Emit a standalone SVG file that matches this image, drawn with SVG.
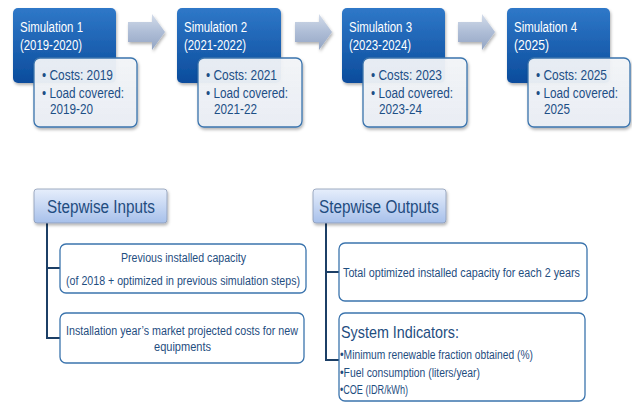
<svg xmlns="http://www.w3.org/2000/svg" width="632" height="403" viewBox="0 0 632 403">
  <defs>
    <linearGradient id="simFill" x1="0" y1="0" x2="0" y2="1">
      <stop offset="0" stop-color="#2f78c8"/>
      <stop offset="1" stop-color="#0b4c9c"/>
    </linearGradient>
    <linearGradient id="noteFill" x1="0" y1="0" x2="0" y2="1">
      <stop offset="0" stop-color="#f4f6f9" stop-opacity="0.93"/>
      <stop offset="1" stop-color="#e9eef4" stop-opacity="0.97"/>
    </linearGradient>
    <linearGradient id="arrowFill" x1="0" y1="0" x2="0" y2="1">
      <stop offset="0" stop-color="#d3dcea"/>
      <stop offset="0.5" stop-color="#aebdd6"/>
      <stop offset="1" stop-color="#93a5c4"/>
    </linearGradient>
    <linearGradient id="headFill" x1="0" y1="0" x2="0" y2="1">
      <stop offset="0" stop-color="#e6eefb"/>
      <stop offset="1" stop-color="#a7c0ea"/>
    </linearGradient>
    <filter id="shadow" x="-10%" y="-10%" width="125%" height="135%">
      <feDropShadow dx="1" dy="2" stdDeviation="1.5" flood-color="#000" flood-opacity="0.3"/>
    </filter>
    <path id="arrowShape" d="M0,6 H24 V-2 L37,16 L24,34 V26 H0 Z"/>
  </defs>
  <style>
    .sim { fill: url(#simFill); filter: url(#shadow); }
    .simText { font-family: "Liberation Sans", Arial, sans-serif; font-size: 14px; fill: #ffffff; }
    .note { fill: url(#noteFill); stroke: #3b74ad; stroke-width: 1.3; filter: url(#shadow); }
    .noteText { font-family: "Liberation Sans", Arial, sans-serif; font-size: 14px; fill: #1d4f86; }
    .arrow { fill: url(#arrowFill); filter: url(#shadow); }
    .head { fill: url(#headFill); stroke: #8c9bb5; stroke-width: 0.8; filter: url(#shadow); }
    .headText { font-family: "Liberation Sans", Arial, sans-serif; font-size: 18px; fill: #1f4c7f; }
    .box { fill: #ffffff; stroke: #3b74ad; stroke-width: 1.3; }
    .boxText { font-family: "Liberation Sans", Arial, sans-serif; font-size: 12.5px; fill: #1f4e7f; }
    .bullet { font-size: 12px; }
    .link { fill: none; stroke: #1c3f66; stroke-width: 2; }
  </style>

  <rect width="632" height="403" fill="#ffffff"/>

  <!-- stepping arrows between simulations, and the tree lines below the headers -->
  <g id="connectors">
    <use href="#arrowShape" class="arrow" transform="translate(128,16)"/>
    <use href="#arrowShape" class="arrow" transform="translate(295,16)"/>
    <use href="#arrowShape" class="arrow" transform="translate(458,16)"/>
    <path class="link" d="M47,223 V338 H60 M47,268 H60"/>
    <path class="link" d="M326,223 V360 H339 M326,272 H339"/>
  </g>

  <g id="sim1">
    <rect class="sim" x="13" y="8" width="103" height="75" rx="5"/>
    <text class="simText" x="20" y="32" textLength="63" lengthAdjust="spacingAndGlyphs">Simulation 1</text>
    <text class="simText" x="20" y="50" textLength="62" lengthAdjust="spacingAndGlyphs">(2019-2020)</text>
    <rect class="note" x="34" y="58" width="103" height="69" rx="6"/>
    <text class="noteText" x="42" y="80" textLength="71" lengthAdjust="spacingAndGlyphs">• Costs: 2019</text>
    <text class="noteText" x="42" y="98" textLength="82" lengthAdjust="spacingAndGlyphs">• Load covered:</text>
    <text class="noteText" x="50" y="114" textLength="43" lengthAdjust="spacingAndGlyphs">2019-20</text>
  </g>

  <g id="sim2">
    <rect class="sim" x="177" y="8" width="104" height="75" rx="5"/>
    <text class="simText" x="184" y="32" textLength="63" lengthAdjust="spacingAndGlyphs">Simulation 2</text>
    <text class="simText" x="184" y="50" textLength="62" lengthAdjust="spacingAndGlyphs">(2021-2022)</text>
    <rect class="note" x="198" y="58" width="104" height="69" rx="6"/>
    <text class="noteText" x="206" y="80" textLength="71" lengthAdjust="spacingAndGlyphs">• Costs: 2021</text>
    <text class="noteText" x="206" y="98" textLength="82" lengthAdjust="spacingAndGlyphs">• Load covered:</text>
    <text class="noteText" x="214" y="114" textLength="43" lengthAdjust="spacingAndGlyphs">2021-22</text>
  </g>

  <g id="sim3">
    <rect class="sim" x="342" y="8" width="103" height="75" rx="5"/>
    <text class="simText" x="349" y="32" textLength="63" lengthAdjust="spacingAndGlyphs">Simulation 3</text>
    <text class="simText" x="349" y="50" textLength="62" lengthAdjust="spacingAndGlyphs">(2023-2024)</text>
    <rect class="note" x="363" y="58" width="104" height="69" rx="6"/>
    <text class="noteText" x="371" y="80" textLength="71" lengthAdjust="spacingAndGlyphs">• Costs: 2023</text>
    <text class="noteText" x="371" y="98" textLength="82" lengthAdjust="spacingAndGlyphs">• Load covered:</text>
    <text class="noteText" x="379" y="114" textLength="43" lengthAdjust="spacingAndGlyphs">2023-24</text>
  </g>

  <g id="sim4">
    <rect class="sim" x="507" y="8" width="103" height="75" rx="5"/>
    <text class="simText" x="514" y="32" textLength="63" lengthAdjust="spacingAndGlyphs">Simulation 4</text>
    <text class="simText" x="514" y="50" textLength="35" lengthAdjust="spacingAndGlyphs">(2025)</text>
    <rect class="note" x="528" y="58" width="102" height="69" rx="6"/>
    <text class="noteText" x="536" y="80" textLength="71" lengthAdjust="spacingAndGlyphs">• Costs: 2025</text>
    <text class="noteText" x="536" y="98" textLength="82" lengthAdjust="spacingAndGlyphs">• Load covered:</text>
    <text class="noteText" x="544" y="114" textLength="26" lengthAdjust="spacingAndGlyphs">2025</text>
  </g>

  <g id="inputsHeader">
    <rect class="head" x="34" y="189" width="133" height="34" rx="3"/>
    <text class="headText" x="47" y="213" textLength="108" lengthAdjust="spacingAndGlyphs">Stepwise  Inputs</text>
  </g>

  <g id="inputPrevious">
    <rect class="box" x="60" y="244" width="246" height="49" rx="6"/>
    <text class="boxText" x="121" y="262" textLength="125" lengthAdjust="spacingAndGlyphs">Previous installed capacity</text>
    <text class="boxText" x="66" y="285" textLength="234" lengthAdjust="spacingAndGlyphs">(of 2018 + optimized in previous simulation steps)</text>
  </g>

  <g id="inputCosts">
    <rect class="box" x="60" y="313" width="244" height="50" rx="6"/>
    <text class="boxText" x="66" y="335" textLength="232" lengthAdjust="spacingAndGlyphs">Installation year’s market projected costs for new</text>
    <text class="boxText" x="154" y="351" textLength="57" lengthAdjust="spacingAndGlyphs">equipments</text>
  </g>

  <g id="outputsHeader">
    <rect class="head" x="313" y="189" width="133" height="34" rx="3"/>
    <text class="headText" x="319" y="213" textLength="120" lengthAdjust="spacingAndGlyphs">Stepwise  Outputs</text>
  </g>

  <g id="outputCapacity">
    <rect class="box" x="339" y="243" width="248" height="58" rx="6"/>
    <text class="boxText" x="343" y="277" textLength="237" lengthAdjust="spacingAndGlyphs">Total optimized installed capacity for each 2 years</text>
  </g>

  <g id="outputIndicators">
    <rect class="box" x="339" y="313" width="246" height="88" rx="6"/>
    <text class="boxText" x="341" y="338" style="font-size:17px" textLength="118" lengthAdjust="spacingAndGlyphs">System Indicators:</text>
    <text class="boxText bullet" x="340" y="359" textLength="193" lengthAdjust="spacingAndGlyphs">•Minimum renewable fraction obtained (%)</text>
    <text class="boxText bullet" x="340" y="377" textLength="140" lengthAdjust="spacingAndGlyphs">•Fuel consumption (liters/year)</text>
    <text class="boxText bullet" x="340" y="394" textLength="68" lengthAdjust="spacingAndGlyphs">•COE (IDR/kWh)</text>
  </g>
</svg>
